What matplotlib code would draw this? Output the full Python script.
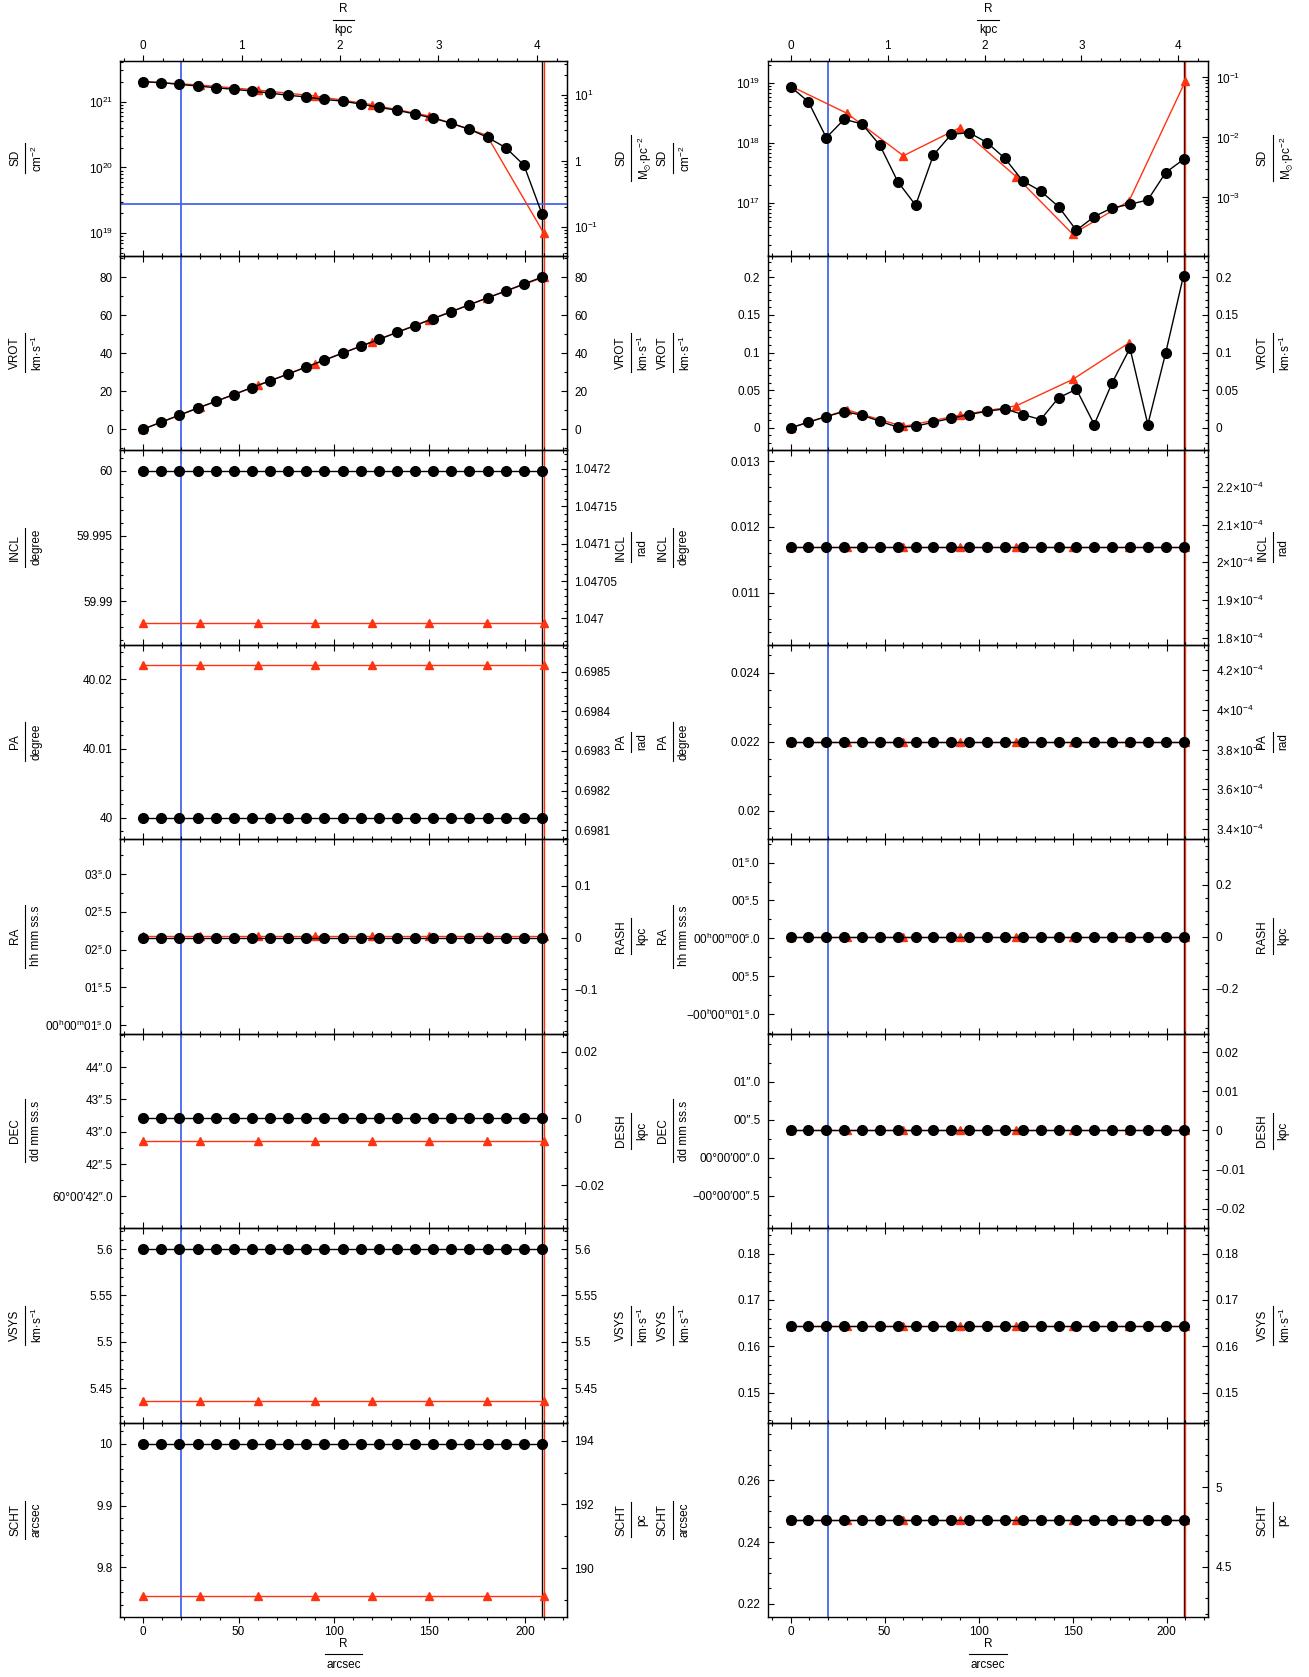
import numpy as np
import matplotlib
matplotlib.use("Agg")
import matplotlib.pyplot as plt
from matplotlib.ticker import (MultipleLocator, FixedLocator, FixedFormatter,
                               FuncFormatter, LogLocator, NullFormatter)
from matplotlib.lines import Line2D

plt.rcParams['font.family'] = ['Liberation Sans', 'DejaVu Sans']
plt.rcParams['mathtext.fontset'] = 'custom'
plt.rcParams['mathtext.rm'] = 'Liberation Sans'
plt.rcParams['mathtext.it'] = 'Liberation Sans:italic'
plt.rcParams['mathtext.bf'] = 'Liberation Sans:bold'

# ---------------- data ----------------
R_fit = [0, 9.5, 19, 28.5, 38, 47.5, 57, 66.5, 76, 85.5, 95, 104.5, 114, 123.5,
         133, 142.5, 152, 161.5, 171, 180.5, 190, 199.5, 209]          # arcsec
R_in = [0, 30, 60, 90, 120, 150, 180, 210]                              # arcsec
R_inner_mark = 20                                                       # blue line
SD_cut = 2.8e19                                                         # blue hline

sd_fit = [2.01e21, 1.95e21, 1.83e21, 1.73e21, 1.63e21, 1.54e21, 1.45e21, 1.35e21,
          1.25e21, 1.18e21, 1.08e21, 1.02e21, 9.2e20, 8.2e20, 7.4e20, 6.5e20,
          5.6e20, 4.7e20, 3.8e20, 2.87e20, 2.0e20, 1.09e20, 1.97e19]
sd_in = [2.01e21, 1.79e21, 1.50e21, 1.22e21, 9.0e20, 6.05e20, 3.1e20, 1.0e19]
vrot_fit = [0, 3.7, 7.4, 11.1, 14.6, 18.2, 21.9, 25.4, 29.0, 32.7, 36.3, 40.0,
            43.6, 47.2, 50.9, 54.5, 58.2, 61.8, 65.5, 69.1, 72.7, 76.4, 80.0]
vrot_in = [0, 11.5, 23.0, 34.5, 46.0, 57.5, 69.0, 80.0]
incl_fit = [60.0] * 23
incl_in = [59.9883] * 8
pa_fit = [40.0] * 23
pa_in = [40.0221] * 8
ra_fit = [2.159] * 23          # seconds after 00h00m
ra_in = [2.186] * 8
dec_fit = [43.206] * 23        # arcsec after 60d00m
dec_in = [42.856] * 8
vsys_fit = [5.6] * 23
vsys_in = [5.436] * 8
scht_fit = [10.0] * 23
scht_in = [9.7536] * 8

# errors (right column)
sd_err_fit = [8.8e18, 4.9e18, 1.24e18, 2.51e18, 2.1e18, 9.3e17, 2.3e17, 9.3e16,
              6.4e17, 1.41e18, 1.5e18, 1.03e18, 5.6e17, 2.36e17, 1.6e17, 8.8e16,
              3.55e16, 6.0e16, 8.4e16, 9.6e16, 1.14e17, 3.25e17, 5.4e17]
sd_err_in = [9.0e18, 3.16e18, 6.2e17, 1.82e18, 2.78e17, 3.08e16, 1.09e17, 1.09e19]
vrot_err_fit = [0, 0.0075, 0.015, 0.0217, 0.0168, 0.0088, 0.0009, 0.0022, 0.0075,
                0.0128, 0.0177, 0.0221, 0.0252, 0.0177, 0.011, 0.0398, 0.0513,
                0.0044, 0.0597, 0.1058, 0.0044, 0.0996, 0.2022]
vrot_err_in = [0, 0.0239, 0.0018, 0.0168, 0.0292, 0.0642, 0.1128, np.nan]
incl_err_fit = [0.011695] * 23
incl_err_in = [0.011695] * 8
pa_err_fit = [0.022] * 23
pa_err_in = [0.022] * 8
ra_err_fit = [0.02] * 23
ra_err_in = [0.02] * 8
dec_err_fit = [0.36] * 23
dec_err_in = [0.36] * 8
vsys_err_fit = [0.16446] * 23
vsys_err_in = [0.16446] * 8
scht_err_fit = [0.2471] * 23
scht_err_in = [0.2471] * 8

# unit conversions
KPC_PER_ARCSEC = 0.01939
PC_PER_ARCSEC = 19.39
CM2_PER_MSUNPC2 = 1.25e20
RASH_K_VAL = 0.1454
RASH_K_ERR = 0.2908
DEG2RAD = np.pi / 180.0

# ---------------- style ----------------
W, H = 1309, 1677
FS = 8.5
RED = '#ff3311'
BLUE = '#4466ee'
XLIM = (-12, 222)
cols = [(120.3, 566.8), (768.0, 1208.0)]
top_px, bot_px = 61.0, 1617.0
ph = (bot_px - top_px) / 8.0

fig = plt.figure(figsize=(W / 100, H / 100), dpi=100)


def axrect(col, i):
    l, r = cols[col]
    t = top_px + i * ph
    return [l / W, 1 - (t + ph) / H, (r - l) / W, ph / H]


def num_fmt(v, pos=None):
    if abs(v) < 1e-12:
        return '0'
    return f"{round(v, 10):g}".replace('-', '\u2212')


def sci_fmt(exp):
    def f(v, pos=None):
        m = round(v / 10 ** exp, 6)
        return r"$\mathregular{%s{\times}10^{%d}}$" % (f"{m:g}", exp)
    return FuncFormatter(f)


def log_fmt(v, pos=None):
    e = int(round(np.log10(v)))
    if e == 0:
        return '1'
    return r"$\mathregular{10^{%d}}$" % e


def ticks_in(lo, hi, step):
    k0 = int(np.ceil(lo / step - 1e-9))
    k1 = int(np.floor(hi / step + 1e-9))
    return [k * step for k in range(k0, k1 + 1)]


def sexa_labels(ticks, kind, base):
    labs = []
    for i, v in enumerate(ticks):
        full = (i == 0) or abs(v) < 1e-9
        a = abs(v)
        whole = int(np.floor(a + 1e-9))
        frac = int(round((a - whole) * 10))
        if kind == 'ra':
            core = f"{whole:02d}" + r"$^{\rm s}$" + f".{frac}"
        else:
            core = f"{whole:02d}\u2033.{frac}"
        if full:
            s = base + core
            if v < -1e-9:
                s = '\u2212' + s
        else:
            s = core
        labs.append(s)
    return labs


RA_BASE = "00" + r"$^{\rm h}$" + "00" + r"$^{\rm m}$"
KMS = r"$\mathregular{km{\cdot}s^{-1}}$"
MSUN = r"$\mathregular{M_{\odot}{\cdot}pc^{-2}}$"
CM2 = r"$\mathregular{cm^{-2}}$"

ra_v0 = ra_fit[0]
dec_v0 = dec_fit[0]
ra_e0 = ra_err_fit[0]
dec_e0 = dec_err_fit[0]

left_specs = [
    dict(name='SD', unit=CM2, fit=sd_fit, inp=sd_in, ylim=(4.6e18, 4.15e21), log=True,
         tname='SD', tunit=MSUN, tf=(lambda y: y / CM2_PER_MSUNPC2, lambda m: m * CM2_PER_MSUNPC2),
         hline=SD_cut),
    dict(name='VROT', unit=KMS, fit=vrot_fit, inp=vrot_in, ylim=(-11.0, 91.4), major=20, minor=10,
         tname='VROT', tunit=KMS, tf=(lambda y: y, lambda y: y), tmajor=20, tminor=10),
    dict(name='INCL', unit='degree', fit=incl_fit, inp=incl_in, ylim=(59.98669, 60.00158),
         major=0.005, minor=0.001, tname='INCL', tunit='rad',
         tf=(lambda y: y * DEG2RAD, lambda r: r / DEG2RAD), tmajor=5e-5, tminor=1e-5),
    dict(name='PA', unit='degree', fit=pa_fit, inp=pa_in, ylim=(39.9969, 40.02506),
         major=0.01, minor=0.002, tname='PA', tunit='rad',
         tf=(lambda y: y * DEG2RAD, lambda r: r / DEG2RAD), tmajor=1e-4, tminor=2e-5),
    dict(name='RA', unit='hh mm ss.s', fit=ra_fit, inp=ra_in, ylim=(0.887, 3.469),
         sexa=('ra', RA_BASE), major=0.5, minor=0.25, label_max=3.0, tname='RASH', tunit='kpc',
         tf=(lambda y: (y - ra_v0) * RASH_K_VAL, lambda k: k / RASH_K_VAL + ra_v0),
         tmajor=0.1, tminor=0.02),
    dict(name='DEC', unit='dd mm ss.s', fit=dec_fit, inp=dec_in, ylim=(41.512, 44.52),
         sexa=('dec', '60\u00b000\u2032'), major=0.5, minor=0.25, label_max=44.0,
         tname='DESH', tunit='kpc',
         tf=(lambda y: (y - dec_v0) * KPC_PER_ARCSEC, lambda k: k / KPC_PER_ARCSEC + dec_v0),
         tmajor=0.02, tminor=0.005),
    dict(name='VSYS', unit=KMS, fit=vsys_fit, inp=vsys_in, ylim=(5.4128, 5.6227),
         major=0.05, minor=0.01, tname='VSYS', tunit=KMS, tf=(lambda y: y, lambda y: y),
         tmajor=0.05, tminor=0.01),
    dict(name='SCHT', unit='arcsec', fit=scht_fit, inp=scht_in, ylim=(9.7199, 10.0345),
         major=0.1, minor=0.02, tname='SCHT', tunit='pc',
         tf=(lambda y: y * PC_PER_ARCSEC, lambda p: p / PC_PER_ARCSEC), tmajor=2, tminor=1),
]

right_specs = [
    dict(name='SD', unit=CM2, fit=sd_err_fit, inp=sd_err_in, ylim=(1.35e16, 2.35e19), log=True,
         tname='SD', tunit=MSUN, tf=(lambda y: y / CM2_PER_MSUNPC2, lambda m: m * CM2_PER_MSUNPC2)),
    dict(name='VROT', unit=KMS, fit=vrot_err_fit, inp=vrot_err_in, ylim=(-0.0294, 0.2288),
         major=0.05, minor=0.01, tname='VROT', tunit=KMS, tf=(lambda y: y, lambda y: y),
         tmajor=0.05, tminor=0.01),
    dict(name='INCL', unit='degree', fit=incl_err_fit, inp=incl_err_in, ylim=(0.010209, 0.01317),
         major=0.001, minor=0.0002, tname='INCL', tunit='rad',
         tf=(lambda y: y * DEG2RAD, lambda r: r / DEG2RAD), tmajor=1e-5, tminor=2e-6, tsci=-4),
    dict(name='PA', unit='degree', fit=pa_err_fit, inp=pa_err_in, ylim=(0.019186, 0.02481),
         major=0.002, minor=0.0005, tname='PA', tunit='rad',
         tf=(lambda y: y * DEG2RAD, lambda r: r / DEG2RAD), tmajor=2e-5, tminor=5e-6, tsci=-4),
    dict(name='RA', unit='hh mm ss.s', fit=ra_err_fit, inp=ra_err_in, ylim=(-1.258, 1.3128),
         sexa=('ra', RA_BASE), major=0.5, minor=0.25, label_max=1.0, tname='RASH', tunit='kpc',
         tf=(lambda y: (y - ra_e0) * RASH_K_ERR, lambda k: k / RASH_K_ERR + ra_e0),
         tmajor=0.2, tminor=0.05),
    dict(name='DEC', unit='dd mm ss.s', fit=dec_err_fit, inp=dec_err_in, ylim=(-0.923, 1.636),
         sexa=('dec', '00\u00b000\u2032'), major=0.5, minor=0.25, label_max=1.0,
         tname='DESH', tunit='kpc',
         tf=(lambda y: (y - dec_e0) * KPC_PER_ARCSEC, lambda k: k / KPC_PER_ARCSEC + dec_e0),
         tmajor=0.01, tminor=0.0025),
    dict(name='VSYS', unit=KMS, fit=vsys_err_fit, inp=vsys_err_in, ylim=(0.14356, 0.18554),
         major=0.01, minor=0.002, tname='VSYS', tunit=KMS, tf=(lambda y: y, lambda y: y),
         tmajor=0.01, tminor=0.002),
    dict(name='SCHT', unit='arcsec', fit=scht_err_fit, inp=scht_err_in, ylim=(0.21573, 0.27881),
         major=0.02, minor=0.005, tname='SCHT', tunit='pc',
         tf=(lambda y: y * PC_PER_ARCSEC, lambda p: p / PC_PER_ARCSEC), tmajor=0.5, tminor=0.1),
]

fracs = []


def vfrac(xbar, yc, num, den):
    t1 = fig.text((xbar - 4) / W, 1 - yc / H, num, rotation=90, ha='right', va='center', fontsize=FS)
    t2 = fig.text((xbar + 5) / W, 1 - yc / H, den, rotation=90, ha='left', va='center', fontsize=FS)
    fracs.append((t1, t2, xbar, yc, 'v'))


def hfrac(xc, ybar, num, den):
    t1 = fig.text(xc / W, 1 - (ybar - 4) / H, num, ha='center', va='bottom', fontsize=FS)
    t2 = fig.text(xc / W, 1 - (ybar + 5) / H, den, ha='center', va='top', fontsize=FS)
    fracs.append((t1, t2, xc, ybar, 'h'))


for col, specs in enumerate([left_specs, right_specs]):
    l_px, r_px = cols[col]
    for i, s in enumerate(specs):
        ax = fig.add_axes(axrect(col, i))
        ax.set_facecolor('none')
        log = s.get('log', False)
        if log:
            ax.set_yscale('log')
        ax.set_xlim(XLIM)
        ax.set_ylim(s['ylim'])

        # vertical markers
        ax.axvline(R_inner_mark, color=BLUE, lw=1.3, zorder=1)
        ax.axvline(R_fit[-1], color='k', lw=1.0, zorder=1)
        ax.axvline(R_in[-1], color=RED, lw=1.0, zorder=1)
        if 'hline' in s:
            ax.axhline(s['hline'], color=BLUE, lw=1.3, zorder=1)

        ax.plot(R_in, s['inp'], '-', color=RED, lw=1.0, marker='^', ms=5.5,
                mfc=RED, mec=RED, zorder=3)
        ax.plot(R_fit, s['fit'], '-', color='k', lw=1.0, marker='o', ms=7,
                mfc='k', mec='k', zorder=4)

        # x axis
        ax.xaxis.set_major_locator(MultipleLocator(50))
        ax.xaxis.set_minor_locator(MultipleLocator(10))
        ax.xaxis.set_major_formatter(FuncFormatter(num_fmt))
        ax.tick_params(axis='x', which='both', direction='out', top=(i > 0), bottom=True,
                       labelbottom=(i == 7), labeltop=False, labelsize=FS, pad=2)
        ax.tick_params(axis='x', which='major', length=4.5, width=0.8)
        ax.tick_params(axis='x', which='minor', length=2.5, width=0.8)
        ax.xaxis.offsetText.set_visible(False)
        ax.yaxis.offsetText.set_visible(False)

        # y axis
        if log:
            ax.yaxis.set_major_locator(LogLocator(base=10, numticks=20))
            ax.yaxis.set_minor_locator(LogLocator(base=10, subs=np.arange(2, 10), numticks=20))
            ax.yaxis.set_major_formatter(FuncFormatter(log_fmt))
            ax.yaxis.set_minor_formatter(NullFormatter())
        elif 'sexa' in s:
            tk = ticks_in(s['ylim'][0], s['label_max'], s['major'])
            ax.yaxis.set_major_locator(FixedLocator(tk))
            ax.yaxis.set_major_formatter(FixedFormatter(sexa_labels(tk, *s['sexa'])))
            ax.yaxis.set_minor_locator(MultipleLocator(s['minor']))
        else:
            ax.yaxis.set_major_locator(MultipleLocator(s['major']))
            ax.yaxis.set_minor_locator(MultipleLocator(s['minor']))
            ax.yaxis.set_major_formatter(FuncFormatter(num_fmt))
        ax.tick_params(axis='y', which='both', direction='in', left=True, right=False,
                       labelsize=FS, pad=5.5)
        ax.tick_params(axis='y', which='major', length=4.5, width=0.8)
        ax.tick_params(axis='y', which='minor', length=2.5, width=0.8)
        for sp in ax.spines.values():
            sp.set_linewidth(1.0)

        # twin (right) axis
        sec = ax.secondary_yaxis('right', functions=s['tf'])
        if log:
            sec.yaxis.set_major_locator(LogLocator(base=10, numticks=20))
            sec.yaxis.set_minor_locator(LogLocator(base=10, subs=np.arange(2, 10), numticks=20))
            sec.yaxis.set_major_formatter(FuncFormatter(log_fmt))
            sec.yaxis.set_minor_formatter(NullFormatter())
        else:
            sec.yaxis.set_major_locator(MultipleLocator(s['tmajor']))
            sec.yaxis.set_minor_locator(MultipleLocator(s['tminor']))
            if 'tsci' in s:
                sec.yaxis.set_major_formatter(sci_fmt(s['tsci']))
            else:
                sec.yaxis.set_major_formatter(FuncFormatter(num_fmt))
        sec.tick_params(axis='y', which='both', direction='in', labelsize=FS, pad=5.5)
        sec.tick_params(axis='y', which='major', length=4.5, width=0.8)
        sec.tick_params(axis='y', which='minor', length=2.5, width=0.8)
        sec.yaxis.offsetText.set_visible(False)

        # top kpc axis on first panel
        if i == 0:
            secx = ax.secondary_xaxis('top', functions=(lambda a: a * KPC_PER_ARCSEC,
                                                         lambda k: k / KPC_PER_ARCSEC))
            secx.xaxis.set_major_locator(MultipleLocator(1))
            secx.xaxis.set_minor_locator(MultipleLocator(0.2))
            secx.xaxis.set_major_formatter(FuncFormatter(num_fmt))
            secx.tick_params(axis='x', which='both', direction='out', labelsize=FS, pad=2)
            secx.tick_params(axis='x', which='major', length=4.5, width=0.8)
            secx.tick_params(axis='x', which='minor', length=2.5, width=0.8)
            secx.xaxis.offsetText.set_visible(False)

        # y labels as fractions
        yc = top_px + (i + 0.5) * ph
        vfrac(l_px - 95, yc, s['name'], s['unit'])
        vfrac(r_px + 64.5, yc, s['tname'], s['tunit'])

    xc = (l_px + r_px) / 2
    hfrac(xc, 19.5, 'R', 'kpc')
    hfrac(xc, 1654, 'R', 'arcsec')

fig.canvas.draw()
rend = fig.canvas.get_renderer()
for t1, t2, a, b, o in fracs:
    e1 = t1.get_window_extent(rend)
    e2 = t2.get_window_extent(rend)
    if o == 'v':
        L = max(e1.height, e2.height) + 3
        fig.add_artist(Line2D([a / W, a / W], [1 - (b - L / 2) / H, 1 - (b + L / 2) / H],
                              transform=fig.transFigure, color='k', lw=0.8))
    else:
        L = max(e1.width, e2.width) + 3
        fig.add_artist(Line2D([(a - L / 2) / W, (a + L / 2) / W], [1 - b / H, 1 - b / H],
                              transform=fig.transFigure, color='k', lw=0.8))

fig.savefig('out.png', dpi=100)
